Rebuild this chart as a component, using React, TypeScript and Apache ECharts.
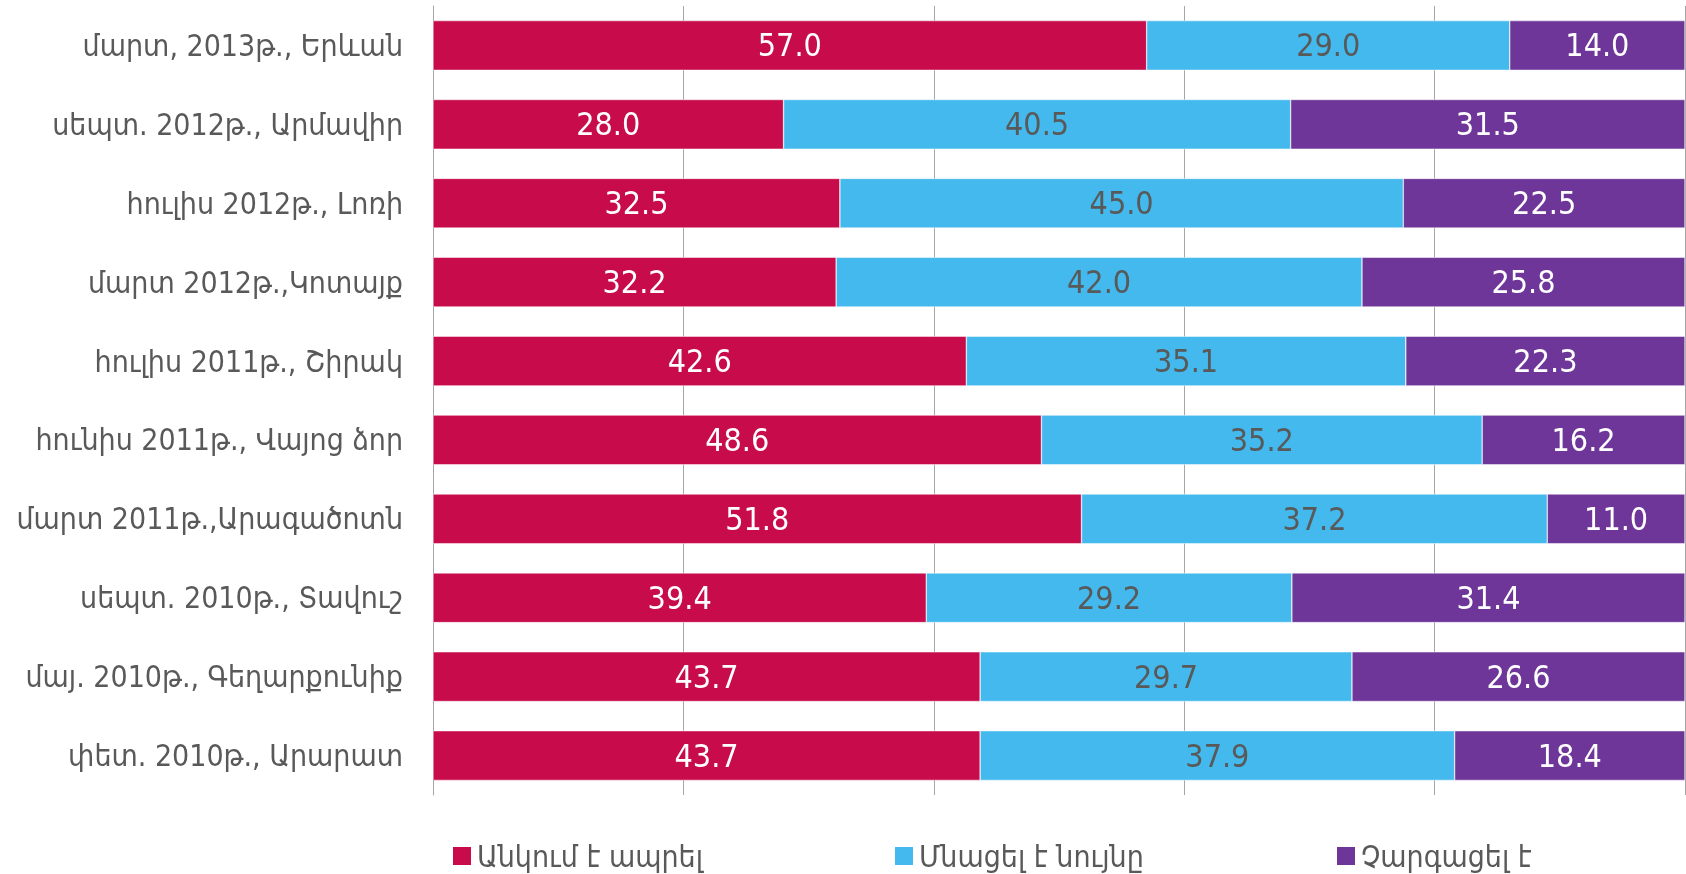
import React, { useEffect, useRef } from "react";
import * as echarts from "echarts";

const categories = [
  "մարտ, 2013թ., Երևան",
  "սեպտ. 2012թ., Արմավիր",
  "հուլիս 2012թ., Լոռի",
  "մարտ 2012թ.,Կոտայք",
  "հուլիս 2011թ., Շիրակ",
  "հունիս 2011թ., Վայոց ձոր",
  "մարտ 2011թ.,Արագածոտն",
  "սեպտ. 2010թ., Տավուշ",
  "մայ. 2010թ., Գեղարքունիք",
  "փետ. 2010թ., Արարատ",
];

const seriesNames = ["Անկում է ապրել", "Մնացել է նույնը", "Չարգացել է"];

const declined = [57.0, 28.0, 32.5, 32.2, 42.6, 48.6, 51.8, 39.4, 43.7, 43.7];
const same = [29.0, 40.5, 45.0, 42.0, 35.1, 35.2, 37.2, 29.2, 29.7, 37.9];
const improved = [14.0, 31.5, 22.5, 25.8, 22.3, 16.2, 11.0, 31.4, 26.6, 18.4];

const colors = ["#C70B4B", "#43B9ED", "#6F3699"];
const labelColors = ["#FFFFFF", "#595959", "#FFFFFF"];

const FONT = "'DejaVu Sans Condensed', 'DejaVu Sans', sans-serif";

export default function App() {
  const ref = useRef<HTMLDivElement>(null);
  useEffect(() => {
    if (!ref.current) return;
    const chart = echarts.init(ref.current, null, { renderer: "svg" });
    const data = [declined, same, improved];
    const legendLefts = [453, 895, 1337];
    const legendY = 856;
    const legendGraphics: any[] = [];
    seriesNames.forEach((n, i) => {
      legendGraphics.push({
        type: "rect",
        shape: { x: legendLefts[i], y: legendY - 9, width: 18, height: 18 },
        style: { fill: colors[i] },
        silent: true,
      });
      legendGraphics.push({
        type: "text",
        x: legendLefts[i] + 24,
        y: legendY,
        style: {
          text: n,
          fontSize: 30,
          fontFamily: FONT,
          fill: "#595959",
          verticalAlign: "middle",
          align: "left",
        },
        silent: true,
      });
    });
    chart.setOption({
      animation: false,
      textStyle: { fontFamily: FONT },
      grid: { left: 433, right: 1, top: 6, bottom: 79, containLabel: false },
      graphic: legendGraphics,
      xAxis: {
        type: "value",
        min: 0,
        max: 100,
        interval: 20,
        axisLabel: { show: false },
        axisLine: { show: false },
        axisTick: { show: false },
        splitLine: { show: true, lineStyle: { color: "#A6A6A6", width: 1 } },
      },
      yAxis: {
        type: "category",
        inverse: true,
        data: categories,
        axisLine: { show: true, lineStyle: { color: "#A6A6A6", width: 1 } },
        axisTick: { show: false },
        axisLabel: { margin: 30, fontSize: 30, color: "#595959", fontFamily: FONT },
      },
      series: seriesNames.map((n, i) => ({
        name: n,
        type: "bar",
        stack: "total",
        barCategoryGap: "37%",
        data: data[i],
        itemStyle: { color: colors[i], borderColor: "#FFFFFF", borderWidth: 0.5 },
        label: {
          show: true,
          position: "inside",
          formatter: (p: any) => Number(p.value).toFixed(1),
          fontSize: 32,
          color: labelColors[i],
          fontFamily: FONT,
        },
      })),
    });
    return () => chart.dispose();
  }, []);
  return (
    <div
      ref={ref}
      style={{ position: "fixed", left: 0, top: 0, width: 1686, height: 874 }}
    />
  );
}
